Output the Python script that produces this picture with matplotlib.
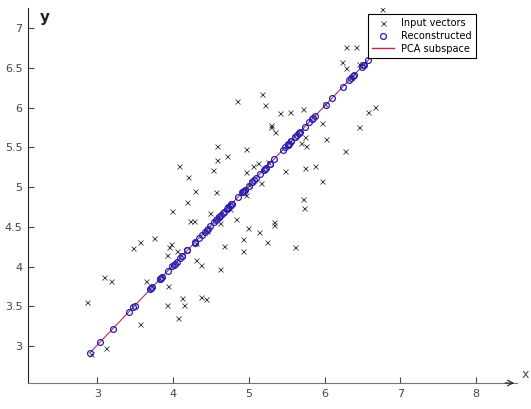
import numpy as np
import matplotlib.pyplot as plt

# input vectors (x, y)
input_x = [6.76, 6.28, 6.42, 6.23, 6.28, 6.45, 6.57, 6.66, 6.46, 6.27,
           4.84, 5.17, 5.21, 5.41, 5.55, 5.71, 5.29, 5.30, 5.35, 5.97,
           6.02, 5.74, 5.69, 5.76, 4.58, 4.96, 4.71, 4.58, 4.53, 4.96,
           5.12, 5.05, 5.26, 5.48, 5.74, 5.88, 4.20, 4.29, 4.19, 3.99,
           4.22, 4.28, 3.56, 3.47, 3.75, 3.98, 3.92, 4.05, 4.31, 4.37,
           3.09, 3.18, 3.64, 3.93, 2.87, 3.92, 4.12, 4.15, 4.37, 4.44,
           4.06, 3.56, 3.12, 4.08, 5.97, 4.57, 4.96, 5.16, 5.72, 5.73,
           4.49, 4.62, 4.83, 4.99, 5.14, 5.33, 5.33, 4.93, 5.24, 5.61,
           4.67, 4.92, 4.62, 3.95,
           # points hidden under the reconstructed circles
           2.92, 4.30, 4.45, 4.60, 4.75, 5.00, 5.55, 6.00, 6.35, 6.50]
input_y = [7.24, 6.76, 6.76, 6.57, 6.50, 6.55, 5.94, 6.01, 5.75, 5.45,
           6.08, 6.17, 6.03, 5.93, 5.94, 5.98, 5.78, 5.76, 5.69, 5.81,
           5.60, 5.63, 5.55, 5.52, 5.52, 5.48, 5.39, 5.34, 5.21, 5.19,
           5.30, 5.26, 5.31, 5.20, 5.24, 5.26, 5.13, 4.95, 4.81, 4.70,
           4.57, 4.57, 4.31, 4.23, 4.36, 4.28, 4.14, 4.19, 4.08, 4.02,
           3.87, 3.82, 3.82, 3.75, 3.55, 3.52, 3.60, 3.52, 3.62, 3.59,
           3.35, 3.28, 2.97, 5.27, 5.08, 4.94, 4.90, 5.05, 4.85, 4.74,
           4.67, 4.55, 4.60, 4.48, 4.43, 4.56, 4.52, 4.35, 4.31, 4.25,
           4.26, 4.19, 3.97, 4.24,
           2.90, 4.30, 4.45, 4.62, 4.72, 5.02, 5.58, 6.05, 6.38, 6.55]

x_ticks = [3, 4, 5, 6, 7, 8]
y_ticks = [3, 3.5, 4, 4.5, 5, 5.5, 6, 6.5, 7]
y_tick_labels = ["3", "3.5", "4", "4.5", "5", "5.5", "6", "6.5", "7"]

# PCA on the input vectors, 1-d subspace
data = np.column_stack([input_x, input_y])
mean = data.mean(axis=0)
cov = np.cov((data - mean).T)
vals, vecs = np.linalg.eigh(cov)
u = vecs[:, np.argmax(vals)]
t = (data - mean) @ u
recon = mean + np.outer(t, u)
line = mean + np.outer([t.min(), t.max()], u)

fig = plt.figure(figsize=(5.31, 4.09), dpi=100)
ax = fig.add_axes([0.0527, 0.0636, 0.9209, 0.9164])

ax.plot(data[:, 0], data[:, 1], 'x', color='#3a3a3a', ms=3.6, mew=0.6,
        label='Input vectors')
ax.plot(line[:, 0], line[:, 1], '-', color='#b0305a', lw=0.8)
ax.plot(recon[:, 0], recon[:, 1], 'o', mfc='none', mec='#2a1fb0', ms=4.2,
        mew=0.9, label='Reconstructed')
# legend handle for the line
ax.plot([], [], '-', color='#c02840', lw=1.0, label='PCA subspace')

ax.set_xlim(2.086, 8.54)
ax.set_ylim(2.535, 7.25)
ax.set_xticks(x_ticks)
ax.set_yticks(y_ticks)
ax.set_yticklabels(y_tick_labels)
ax.tick_params(direction='in', length=4, width=0.8, labelsize=8,
               colors='#444444', pad=4)
ax.spines['top'].set_visible(False)
ax.spines['right'].set_visible(False)
ax.spines['left'].set_color('#222222')
ax.spines['bottom'].set_color('#777777')

# arrow at the end of the x axis
ax.annotate('', xy=(1.0, 0), xytext=(0.97, 0), xycoords='axes fraction',
            arrowprops=dict(arrowstyle='->', color='#222222', lw=0.8))

ax.text(0.025, 0.995, 'y', transform=ax.transAxes, fontsize=11,
        fontweight='bold', va='top', ha='left', color='#222222')
fig.text(0.982, 0.075, 'x', fontsize=9, color='#444444', ha='left')

leg = ax.legend(loc='upper right', bbox_to_anchor=(0.916, 0.984),
                borderaxespad=0, fontsize=7, fancybox=False, framealpha=1,
                edgecolor='black', handlelength=2.2, borderpad=0.4,
                labelspacing=0.3)
leg.get_frame().set_linewidth(0.8)

fig.savefig('out.png', dpi=100)
